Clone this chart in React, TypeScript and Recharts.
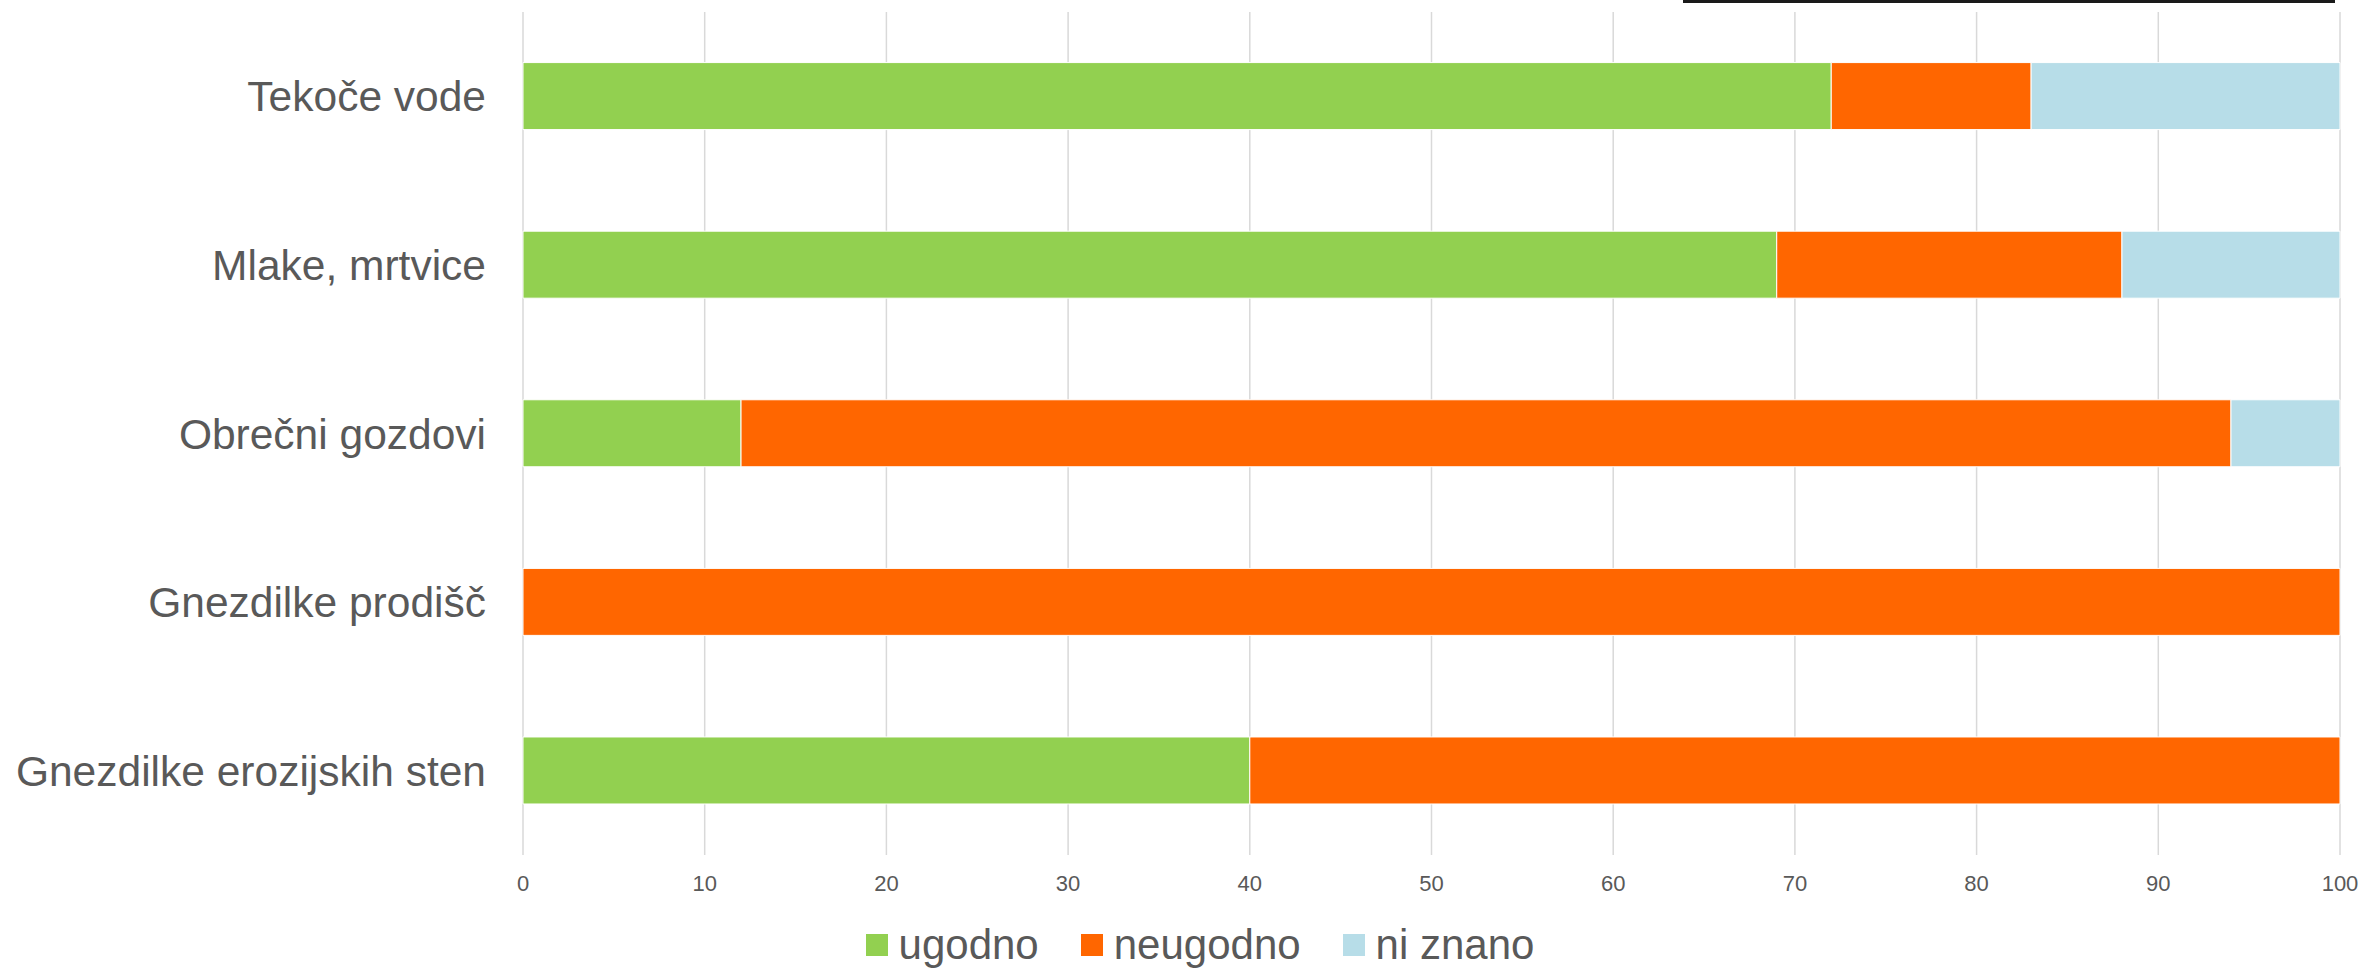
import { Bar, BarChart, CartesianGrid, Legend, XAxis, YAxis } from "recharts";

const categories = [
  "Tekoče vode",
  "Mlake, mrtvice",
  "Obrečni gozdovi",
  "Gnezdilke prodišč",
  "Gnezdilke erozijskih sten",
];
const ugodno = [72, 69, 12, 0, 40];
const neugodno = [11, 19, 82, 100, 60];
const niZnano = [17, 12, 6, 0, 0];
const xTicks = [0, 10, 20, 30, 40, 50, 60, 70, 80, 90, 100];

const series = [
  { key: "ugodno", label: "ugodno", color: "#92D050" },
  { key: "neugodno", label: "neugodno", color: "#FF6600" },
  { key: "niZnano", label: "ni znano", color: "#B7DDE8" },
];

const data = categories.map((name, i) => ({
  name,
  ugodno: ugodno[i],
  neugodno: neugodno[i],
  niZnano: niZnano[i],
}));

const font = "'Liberation Sans', Arial, sans-serif";
const textColor = "#595959";

function LegendContent() {
  return (
    <div
      style={{
        height: 63,
        display: "flex",
        justifyContent: "center",
        alignItems: "flex-end",
        paddingBottom: 3,
        paddingLeft: 60,
        boxSizing: "border-box",
        fontFamily: font,
        fontSize: 42,
        color: textColor,
      }}
    >
      {series.map((s) => (
        <div key={s.key} style={{ display: "flex", alignItems: "center", margin: "0 21px", lineHeight: "40px" }}>
          <span style={{ width: 22, height: 22, background: s.color, display: "inline-block", marginRight: 11 }} />
          <span>{s.label}</span>
        </div>
      ))}
    </div>
  );
}

export default function App() {
  return (
    <div style={{ position: "absolute", left: 0, top: 0, width: 2367, height: 968, background: "#fff" }}>
      <div style={{ position: "absolute", left: 1683, top: 0, width: 652, height: 3, background: "#1a1a1a" }} />
      <BarChart
        width={2367}
        height={968}
        data={data}
        layout="vertical"
        barCategoryGap="30%"
        margin={{ top: 12, right: 27, bottom: 0, left: 0 }}
      >
        <CartesianGrid horizontal={false} stroke="#D9D9D9" strokeWidth={1.5} />
        <XAxis
          type="number"
          domain={[0, 100]}
          ticks={xTicks}
          interval={0}
          axisLine={false}
          tickLine={false}
          tickSize={0}
          tickMargin={20}
          height={50}
          tick={{ fill: textColor, fontSize: 22, fontFamily: font }}
        />
        <YAxis
          type="category"
          dataKey="name"
          width={523}
          axisLine={false}
          tickLine={false}
          tickSize={0}
          tickMargin={37}
          tick={{ fill: textColor, fontSize: 42.5, fontFamily: font }}
        />
        <Legend verticalAlign="bottom" content={<LegendContent />} />
        {series.map((s) => (
          <Bar
            key={s.key}
            dataKey={s.key}
            name={s.label}
            stackId="a"
            fill={s.color}
            stroke="#ffffff"
            strokeWidth={1}
            isAnimationActive={false}
          />
        ))}
      </BarChart>
    </div>
  );
}
